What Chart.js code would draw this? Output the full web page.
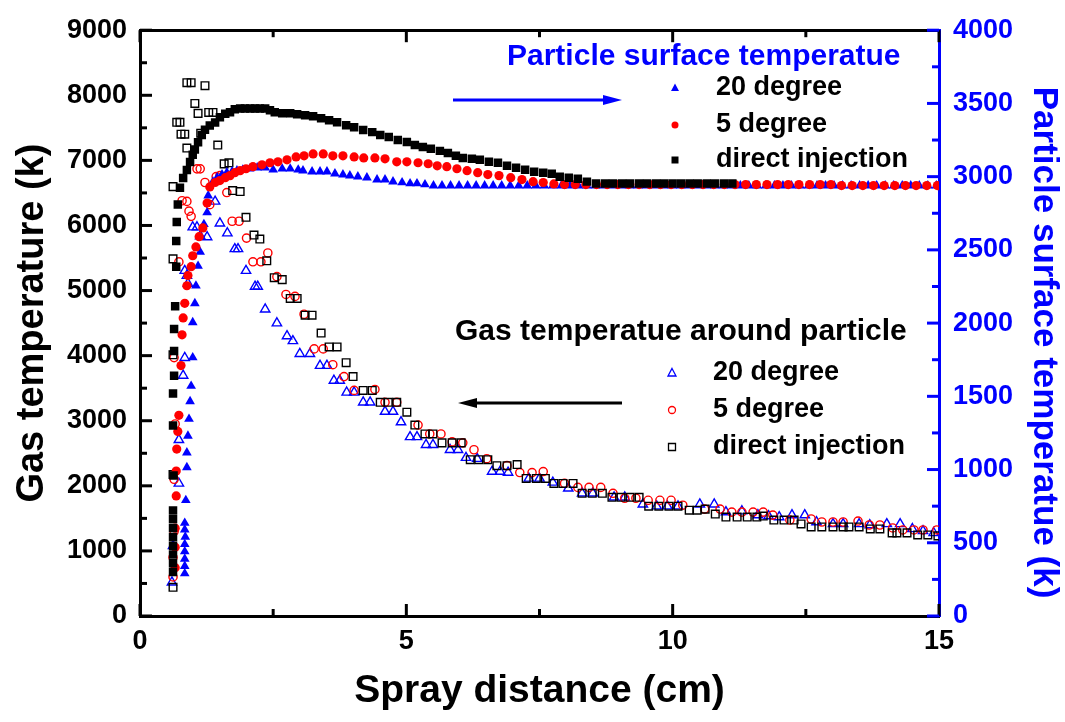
<!DOCTYPE html>
<html>
<head>
    <title>Gas and particle surface temperature</title>
    <style>
        body {
            margin: 0;
            background: #fff;
        }
        #wrap {
            width: 1065px;
            height: 722px;
        }
    </style>
    <script src="https://cdn.jsdelivr.net/npm/chart.js"></script>
</head>
<body>
    <div id="wrap"><canvas id="tempChart" width="1065" height="722"></canvas></div>

    <script>
        // particle surface temperature (k), right axis: [spray distance cm, temperature]
        const surfDirect = [
            [0.62,300],[0.62,360],[0.62,420],[0.62,480],[0.62,540],[0.62,600],[0.62,660],[0.62,720],
            [0.63,960],[0.62,1300],[0.62,1520],[0.64,1640],[0.64,1810],[0.64,1960],[0.66,2115],[0.68,2385],
            [0.68,2560],[0.69,2690],[0.71,2810],[0.75,2925],[0.81,2990],[0.88,3045],[0.94,3100],[0.99,3150],
            [1.03,3185],[1.09,3235],[1.16,3285],[1.22,3320],[1.31,3350],[1.41,3370],[1.50,3405],[1.60,3430],
            [1.69,3440],[1.78,3460],[1.88,3466],[1.97,3466],[2.07,3466],[2.16,3466],[2.25,3466],[2.35,3466],
            [2.44,3453],[2.53,3440],[2.67,3433],[2.82,3433],[2.95,3426],[3.10,3419],[3.25,3412],[3.40,3399],
            [3.55,3385],[3.70,3372],[3.87,3351],[4.02,3338],[4.19,3318],[4.36,3304],[4.51,3284],[4.67,3270],
            [4.84,3250],[5.01,3237],[5.16,3216],[5.31,3203],[5.46,3190],[5.63,3176],[5.78,3162],[5.93,3142],
            [6.06,3128],[6.23,3122],[6.38,3115],[6.55,3101],[6.72,3095],[6.89,3074],[7.06,3061],[7.23,3047],
            [7.40,3034],[7.57,3027],[7.73,3020],[7.88,3000],[8.05,2993],[8.22,2986],[8.39,2966],[8.56,2953],
            [8.73,2953],[8.88,2953],[9.05,2953],[9.20,2953],[9.37,2953],[9.52,2953],[9.69,2953],[9.84,2953],
            [10.00,2953],[10.16,2953],[10.32,2953],[10.47,2953],[10.64,2953],[10.79,2953],[10.96,2953],[11.12,2953]
        ];
        const surfFive = [
            [0.66,330],[0.66,470],[0.66,600],[0.68,820],[0.68,990],[0.69,1140],[0.71,1260],[0.73,1370],
            [0.77,1710],[0.79,1920],[0.81,2035],[0.84,2135],[0.88,2255],[0.90,2325],[0.96,2385],[0.99,2460],
            [1.05,2520],[1.11,2590],[1.18,2650],[1.26,2820],[1.31,2930],[1.41,2960],[1.50,2973],[1.60,2993],
            [1.69,3007],[1.78,3027],[1.88,3041],[1.99,3054],[2.12,3068],[2.29,3081],[2.44,3095],[2.59,3101],
            [2.76,3115],[2.93,3135],[3.08,3142],[3.25,3155],[3.44,3155],[3.62,3142],[3.81,3142],[4.02,3135],
            [4.20,3128],[4.41,3128],[4.60,3122],[4.82,3101],[5.01,3101],[5.22,3095],[5.41,3088],[5.58,3074],
            [5.76,3068],[5.95,3054],[6.14,3041],[6.34,3027],[6.53,3014],[6.74,3007],[6.96,2993],[7.17,2980],
            [7.38,2966],[7.57,2960],[7.77,2950],[7.97,2946],[8.17,2946],[8.37,2946],[8.57,2946],[8.77,2946],
            [8.97,2946],[9.17,2946],[9.37,2946],[9.57,2946],[9.77,2946],[9.97,2946],[10.17,2946],[10.37,2946],
            [10.57,2946],[10.77,2946],[10.97,2946],[11.17,2946],[11.37,2946],[11.57,2946],[11.77,2946],[11.97,2946],
            [12.17,2946],[12.37,2946],[12.57,2946],[12.77,2946],[12.97,2946],[13.17,2939],[13.37,2939],[13.57,2939],
            [13.77,2939],[13.97,2939],[14.17,2939],[14.37,2939],[14.57,2939],[14.77,2939],[14.97,2939]
        ];
        const surfTwenty = [
            [0.84,290],[0.84,340],[0.84,390],[0.84,440],[0.84,490],[0.85,540],[0.84,590],[0.84,635],
            [0.86,790],[0.88,1015],[0.88,1115],[0.90,1230],[0.92,1345],[0.94,1465],[0.96,1570],[0.99,1765],
            [0.99,2005],[1.03,2135],[1.05,2255],[1.09,2390],[1.13,2485],[1.20,2675],[1.26,2755],[1.28,2870],
            [1.37,2965],[1.45,2993],[1.54,3014],[1.63,3027],[1.73,3034],[1.82,3041],[1.93,3047],[2.06,3054],
            [2.20,3061],[2.35,3061],[2.50,3047],[2.67,3054],[2.82,3054],[2.97,3047],[3.06,3041],[3.23,3034],
            [3.38,3034],[3.51,3034],[3.66,3020],[3.81,3014],[3.94,3007],[4.09,3000],[4.26,2993],[4.45,2980],
            [4.60,2980],[4.75,2966],[4.92,2960],[5.07,2953],[5.20,2953],[5.35,2946],[5.51,2939],[5.67,2939],
            [5.83,2939],[5.99,2939],[6.15,2939],[6.31,2939],[6.47,2939],[6.63,2939],[6.79,2939],[6.95,2939],
            [7.11,2939],[7.27,2939],[7.43,2939],[7.59,2939],[7.75,2939],[7.91,2939],[8.07,2939],[8.23,2939],
            [8.39,2939],[8.55,2939],[8.71,2939],[8.87,2939],[9.03,2939],[9.19,2939],[9.35,2939],[9.51,2939],
            [9.67,2939],[9.83,2939],[9.99,2939],[10.15,2939],[10.31,2939],[10.47,2939],[10.63,2939],[10.79,2939],
            [10.95,2939],[11.11,2939],[11.27,2939],[11.43,2939],[11.59,2939],[11.75,2939],[11.91,2939],[12.07,2939],
            [12.23,2939],[12.39,2939],[12.55,2939],[12.71,2939],[12.87,2939],[13.03,2939],[13.19,2939],[13.35,2939],
            [13.51,2939],[13.67,2939],[13.83,2939],[13.99,2939],[14.15,2939],[14.31,2939],[14.47,2939],[14.63,2939],
            [14.79,2939],[14.95,2939]
        ];

        // gas temperature around the particle (k), left axis
        const gasDirect = [
            [0.62,441],[0.62,2174],[0.62,4013],[0.62,5487],[0.62,6597],[0.69,7585],[0.75,7585],[0.77,7402],
            [0.84,7402],[0.88,7190],[0.88,8193],[0.96,8193],[1.22,8147],[1.03,7874],[1.09,7722],[1.29,7737],
            [1.37,7737],[1.14,7418],[1.46,7235],[1.58,6946],[1.67,6962],[1.74,6536],[1.88,6521],[1.99,6126],
            [2.14,5852],[2.25,5791],[2.38,5457],[2.52,5198],[2.67,5168],[2.82,4879],[2.95,4879],[3.10,4621],
            [3.23,4621],[3.40,4347],[3.55,4134],[3.70,4134],[3.87,3891],[4.00,3678],[4.19,3466],[4.36,3466],
            [4.51,3283],[4.66,3283],[4.82,3283],[5.01,3131],[5.16,2934],[5.35,2797],[5.50,2797],[5.67,2660],
            [5.86,2660],[6.03,2660],[6.20,2402],[6.36,2402],[6.53,2402],[6.70,2310],[6.89,2310],[7.08,2326],
            [7.25,2113],[7.44,2113],[7.61,2113],[7.77,2037],[7.94,2037],[8.13,2037],[8.30,1885],[8.49,1885],
            [8.68,1885],[8.86,1824],[9.03,1824],[9.20,1824],[9.37,1824],[9.55,1687],[9.74,1687],[9.93,1687],
            [10.10,1687],[10.31,1626],[10.46,1626],[10.61,1642],[10.80,1566],[11.00,1520],[11.21,1520],[11.40,1520],
            [11.58,1520],[11.70,1535],[11.90,1474],[12.09,1474],[12.28,1474],[12.41,1414],[12.60,1368],[12.80,1368],
            [13.01,1368],[13.20,1368],[13.31,1368],[13.50,1368],[13.71,1338],[13.89,1338],[14.12,1277],[14.21,1277],
            [14.40,1277],[14.60,1246],[14.79,1246],[14.98,1231]
        ];
        const gasFive = [
            [0.62,600],[0.62,900],[0.64,1300],[0.64,2100],[0.66,2950],[0.64,3970],[0.73,5440],[0.79,6380],
            [0.88,6370],[0.92,6220],[0.96,6140],[1.07,6870],[1.13,6870],[1.22,6660],[1.43,6750],[1.50,6765],
            [1.31,6320],[1.63,6506],[1.73,6065],[1.86,6065],[2.00,5806],[2.12,5442],[2.27,5442],[2.40,5578],
            [2.57,5214],[2.74,4940],[2.91,4910],[3.08,4636],[3.27,4104],[3.44,4104],[3.62,3861],[3.83,3678],
            [4.02,3466],[4.41,3481],[4.60,3283],[4.82,3283],[5.22,2934],[5.44,2797],[5.65,2797],[5.86,2675],
            [6.06,2660],[6.27,2554],[6.51,2417],[6.89,2310],[7.13,2204],[7.36,2204],[7.57,2219],[7.97,2037],
            [8.22,1976],[8.43,1976],[8.65,1976],[8.88,1885],[9.10,1809],[9.31,1809],[9.54,1778],[9.76,1778],
            [9.97,1778],[10.19,1702],[10.60,1642],[10.89,1642],[11.11,1596],[11.30,1596],[11.51,1596],[11.70,1596],
            [11.88,1550],[12.20,1474],[12.60,1490],[12.80,1444],[13.01,1444],[13.20,1444],[13.48,1459],[13.69,1398],
            [13.89,1398],[14.13,1353],[14.32,1322],[14.53,1322],[14.70,1322],[14.96,1322]
        ];
        const gasTwenty = [
            [0.60,517],[0.62,1079],[0.73,2037],[0.73,2706],[0.81,3694],[0.84,3967],[0.84,5305],[0.88,5229],
            [0.90,5107],[0.99,5974],[1.07,5974],[1.13,5837],[1.26,5822],[1.41,6369],[1.50,6034],[1.64,5882],
            [1.78,5639],[1.84,5639],[1.99,5305],[2.16,5062],[2.21,5062],[2.35,4712],[2.57,4499],[2.76,4302],
            [2.87,4226],[3.00,4028],[3.19,4028],[3.38,3846],[3.51,3846],[3.64,3618],[3.75,3618],[3.88,3435],
            [4.02,3435],[4.19,3283],[4.32,3283],[4.60,3140],[4.75,3140],[4.90,2979],[5.07,2751],[5.20,2751],
            [5.37,2630],[5.50,2630],[5.82,2554],[5.97,2554],[6.12,2432],[6.33,2417],[6.61,2219],[6.76,2219],
            [6.91,2204],[7.30,2113],[7.50,2113],[7.75,2052],[8.04,1961],[8.30,1885],[8.50,1885],[8.90,1824],
            [9.10,1824],[9.44,1717],[9.70,1687],[9.90,1687],[10.10,1687],[10.51,1717],[10.78,1717],[11.00,1596],
            [11.30,1611],[11.60,1550],[11.80,1535],[12.00,1520],[12.24,1550],[12.48,1550],[12.70,1444],[13.01,1414],
            [13.20,1414],[13.50,1414],[13.70,1398],[14.02,1414],[14.27,1414],[14.50,1338],[14.70,1307],[14.90,1277]
        ];

        const legendTop = ['20 degree', '5 degree', 'direct injection'];
        const legendBottom = ['20 degree', '5 degree', 'direct injection'];

        const FONT = 'Liberation Sans, Arial, sans-serif';
        Chart.defaults.font.family = FONT;
        Chart.defaults.color = '#000';

        function pts(arr) {
            return arr.map(p => ({ x: p[0], y: p[1] }));
        }

        // inward major/minor tick marks on all four sides
        const tickMarks = {
            id: 'tickMarks',
            afterDraw(chart) {
                const ctx = chart.ctx;
                const a = chart.chartArea;
                const sides = [
                    { id: 'x', edge: a.bottom, dir: -1, major: 5, color: '#000', horiz: true },
                    { id: 'xTop', edge: a.top, dir: 1, major: 5, color: '#000', horiz: true },
                    { id: 'y', edge: a.left, dir: 1, major: 1000, color: '#000', horiz: false },
                    { id: 'y2', edge: a.right, dir: -1, major: 500, color: '#0000ff', horiz: false }
                ];
                ctx.save();
                ctx.lineWidth = 3;
                sides.forEach(s => {
                    const scale = chart.scales[s.id];
                    ctx.strokeStyle = s.color;
                    scale.ticks.forEach(t => {
                        const p = scale.getPixelForValue(t.value);
                        const len = (t.value % s.major === 0) ? 12 : 7;
                        ctx.beginPath();
                        if (s.horiz) {
                            ctx.moveTo(p, s.edge);
                            ctx.lineTo(p, s.edge + s.dir * len);
                        } else {
                            ctx.moveTo(s.edge, p);
                            ctx.lineTo(s.edge + s.dir * len, p);
                        }
                        ctx.stroke();
                    });
                });
                ctx.restore();
            }
        };

        function arrow(ctx, x1, x2, y, color) {
            const dir = Math.sign(x2 - x1);
            ctx.strokeStyle = color;
            ctx.fillStyle = color;
            ctx.lineWidth = 3;
            ctx.beginPath();
            ctx.moveTo(x1, y);
            ctx.lineTo(x2 - dir * 14, y);
            ctx.stroke();
            ctx.beginPath();
            ctx.moveTo(x2, y);
            ctx.lineTo(x2 - dir * 19, y - 5);
            ctx.lineTo(x2 - dir * 19, y + 5);
            ctx.closePath();
            ctx.fill();
        }

        function marker(ctx, style, x, y, color, filled) {
            ctx.beginPath();
            if (style === 'triangle') {
                ctx.moveTo(x, y - 4.5);
                ctx.lineTo(x + 4, y + 3);
                ctx.lineTo(x - 4, y + 3);
                ctx.closePath();
            } else if (style === 'circle') {
                ctx.arc(x, y, 3.5, 0, Math.PI * 2);
            } else {
                ctx.rect(x - 3.5, y - 3.5, 7, 7);
            }
            if (filled) {
                ctx.fillStyle = color;
                ctx.fill();
            } else {
                ctx.strokeStyle = color;
                ctx.lineWidth = 1.3;
                ctx.stroke();
            }
        }

        // the two annotation blocks with their arrows
        const notes = {
            id: 'notes',
            afterDraw(chart) {
                const ctx = chart.ctx;
                const styles = ['triangle', 'circle', 'rect'];
                const colors = ['#0000ff', '#ff0000', '#000'];
                ctx.save();
                ctx.textBaseline = 'middle';
                ctx.textAlign = 'left';

                ctx.font = 'bold 30px ' + FONT;
                ctx.fillStyle = '#0000ff';
                ctx.fillText('Particle surface temperatue', 507, 57);
                arrow(ctx, 453, 622, 100, '#0000ff');
                const rowsTop = [88, 125, 160];
                legendTop.forEach((txt, i) => {
                    marker(ctx, styles[i], 675, rowsTop[i], colors[i], true);
                    ctx.font = 'bold 27px ' + FONT;
                    ctx.fillStyle = '#000';
                    ctx.fillText(txt, 716, rowsTop[i]);
                });

                ctx.font = 'bold 30px ' + FONT;
                ctx.fillStyle = '#000';
                ctx.fillText('Gas temperatue around particle', 455, 332);
                arrow(ctx, 622, 458, 403, '#000');
                const rowsBottom = [373, 410, 447];
                legendBottom.forEach((txt, i) => {
                    marker(ctx, styles[i], 672, rowsBottom[i], colors[i], false);
                    ctx.font = 'bold 27px ' + FONT;
                    ctx.fillStyle = '#000';
                    ctx.fillText(txt, 713, rowsBottom[i]);
                });
                ctx.restore();
            }
        };

        const tickFont = { size: 27, weight: 'bold' };

        new Chart(document.getElementById('tempChart'), {
            type: 'scatter',
            data: {
                datasets: [
                    { label: 'direct injection', data: pts(surfDirect), yAxisID: 'y2', pointStyle: 'rect', pointRadius: 6, backgroundColor: '#000', borderColor: '#000', borderWidth: 0 },
                    { label: '5 degree', data: pts(surfFive), yAxisID: 'y2', pointStyle: 'circle', pointRadius: 4.6, backgroundColor: '#ff0000', borderColor: '#ff0000', borderWidth: 0 },
                    { label: '20 degree', data: pts(surfTwenty), yAxisID: 'y2', pointStyle: 'triangle', pointRadius: 5.6, backgroundColor: '#0000ff', borderColor: '#0000ff', borderWidth: 0 },
                    { label: 'direct injection', data: pts(gasDirect), yAxisID: 'y', pointStyle: 'rect', pointRadius: 5.4, backgroundColor: 'rgba(0,0,0,0)', borderColor: '#000', borderWidth: 1.4 },
                    { label: '5 degree', data: pts(gasFive), yAxisID: 'y', pointStyle: 'circle', pointRadius: 4.1, backgroundColor: 'rgba(0,0,0,0)', borderColor: '#ff0000', borderWidth: 1.4 },
                    { label: '20 degree', data: pts(gasTwenty), yAxisID: 'y', pointStyle: 'triangle', pointRadius: 5.4, backgroundColor: 'rgba(0,0,0,0)', borderColor: '#0000ff', borderWidth: 1.4 }
                ]
            },
            options: {
                responsive: false,
                animation: false,
                events: [],
                layout: { padding: 0 },
                plugins: {
                    legend: { display: false },
                    tooltip: { enabled: false }
                },
                scales: {
                    x: {
                        type: 'linear',
                        position: 'bottom',
                        min: 0,
                        max: 15,
                        afterFit: s => { s.height = 106; },
                        grid: { display: false, drawTicks: false },
                        border: { display: true, color: '#000', width: 3 },
                        ticks: {
                            stepSize: 2.5,
                            autoSkip: false,
                            maxRotation: 0,
                            padding: 9,
                            font: tickFont,
                            color: '#000',
                            callback: v => (v % 5 === 0 ? String(v) : '')
                        },
                        title: {
                            display: true,
                            text: 'Spray distance (cm)',
                            color: '#000',
                            font: { size: 39, weight: 'bold' },
                            padding: { top: 0, bottom: 7 }
                        }
                    },
                    xTop: {
                        type: 'linear',
                        position: 'top',
                        min: 0,
                        max: 15,
                        afterFit: s => { s.height = 24; },
                        grid: { display: false, drawTicks: false },
                        border: { display: true, color: '#000', width: 3 },
                        ticks: { display: false, stepSize: 2.5, autoSkip: false }
                    },
                    y: {
                        type: 'linear',
                        position: 'left',
                        min: 0,
                        max: 9000,
                        afterFit: s => { s.width = 140; },
                        grid: { display: false, drawTicks: false },
                        border: { display: true, color: '#000', width: 3 },
                        ticks: {
                            stepSize: 500,
                            autoSkip: false,
                            padding: 13,
                            font: tickFont,
                            color: '#000',
                            callback: v => (v % 1000 === 0 ? String(v) : '')
                        },
                        title: {
                            display: true,
                            text: 'Gas temperature (k)',
                            color: '#000',
                            font: { size: 38, weight: 'bold' },
                            padding: { top: 10, bottom: 0 }
                        }
                    },
                    y2: {
                        type: 'linear',
                        position: 'right',
                        min: 0,
                        max: 4000,
                        afterFit: s => { s.width = 126; },
                        grid: { display: false, drawTicks: false },
                        border: { display: true, color: '#0000ff', width: 3 },
                        ticks: {
                            stepSize: 250,
                            autoSkip: false,
                            padding: 14,
                            font: tickFont,
                            color: '#0000ff',
                            callback: v => (v % 500 === 0 ? String(v) : '')
                        },
                        title: {
                            display: true,
                            // leading spaces push the rotated title a little further down
                            text: '    Particle surface temperatue (k)',
                            color: '#0000ff',
                            font: { size: 35, weight: 'bold' },
                            padding: { top: 0, bottom: 0 }
                        }
                    }
                }
            },
            plugins: [tickMarks, notes]
        });
    </script>
</body>
</html>
